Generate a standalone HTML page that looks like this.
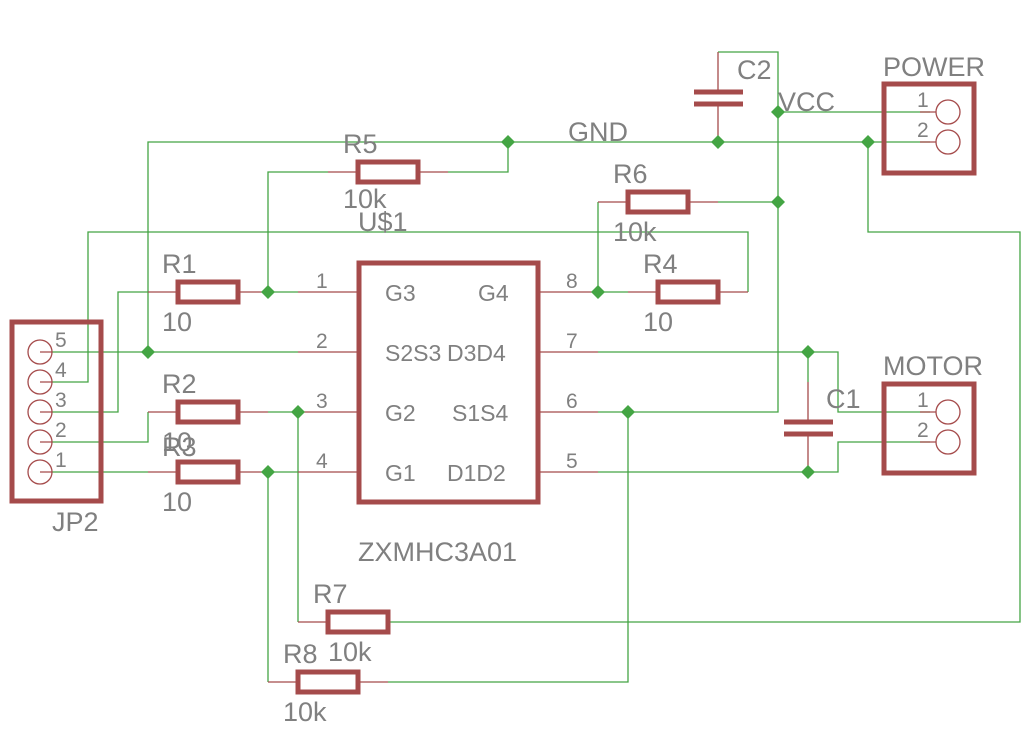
<!DOCTYPE html>
<html><head><style>body{margin:0;background:#fff}svg{display:block}text{font-family:"Liberation Sans",sans-serif;fill:#808080}</style></head><body>
<svg width="1024" height="732" viewBox="0 0 1024 732" xmlns="http://www.w3.org/2000/svg">
<g stroke="#44a544" stroke-width="1.3" fill="none">
<path d="M148 352V142H930"/>
<path d="M718 52H778V412H598"/>
<path d="M778 112H930"/>
<path d="M868 142V232H1020V622H388"/>
<path d="M718 202H778"/>
<path d="M598 202V292H628"/>
<path d="M448 172H508V142"/>
<path d="M328 172H268V292H298"/>
<path d="M52 382H88V232H748V292"/>
<path d="M52 352H298"/>
<path d="M52 412H118V292H148"/>
<path d="M52 442H148V412"/>
<path d="M52 472H148"/>
<path d="M268 412H298V622"/>
<path d="M268 472H298"/>
<path d="M268 472V682"/>
<path d="M388 682H628V412"/>
<path d="M598 352H838V412H930"/>
<path d="M598 472H838V442H930"/>
<path d="M808 352V382"/>
</g>
<g stroke="#a54b4b" stroke-width="1.3" fill="none">
<path d="M718 52V92M718 104V142"/>
<path d="M598 202H627M688 202H718"/>
<path d="M538 292H598M628 292H657M718 292H748"/>
<path d="M328 172H358M418 172H448"/>
<path d="M148 292H178M238 292H268M298 292H358"/>
<path d="M298 352H358"/>
<path d="M148 412H178M238 412H268M298 412H358"/>
<path d="M148 472H178M238 472H268M298 472H358"/>
<path d="M538 352H598M538 412H598M538 472H598"/>
<path d="M808 382V422M808 434V472"/>
<path d="M298 622H328"/>
<path d="M268 682H298M358 682H388"/>
<path d="M40 352H52M40 382H52M40 412H52M40 442H52M40 472H52"/>
<path d="M920 112H936M920 142H936M920 412H936M920 442H936"/>
<circle cx="40" cy="352" r="12"/><circle cx="40" cy="382" r="12"/><circle cx="40" cy="412" r="12"/><circle cx="40" cy="442" r="12"/><circle cx="40" cy="472" r="12"/>
<circle cx="948" cy="112" r="12"/><circle cx="948" cy="142" r="12"/><circle cx="948" cy="412" r="12"/><circle cx="948" cy="442" r="12"/>
</g>
<g stroke="#a54b4b" stroke-width="5" fill="none">
<rect x="358" y="162" width="60" height="20"/>
<rect x="628" y="192" width="60" height="20"/>
<rect x="658" y="282" width="60" height="20"/>
<rect x="178" y="282" width="60" height="20"/>
<rect x="178" y="402" width="60" height="20"/>
<rect x="178" y="462" width="60" height="20"/>
<rect x="328" y="612" width="60" height="20"/>
<rect x="298" y="672" width="60" height="20"/>
<rect x="12" y="322" width="89" height="179"/>
<rect x="884" y="84" width="90" height="89"/>
<rect x="884" y="384" width="90" height="89"/>
<rect x="359" y="263" width="179" height="239"/>
<path d="M694 92H743M694 104H743M784 422H833M784 434H833"/>
</g>
<g fill="#44a544">
<path d="M508 135l7 7-7 7-7-7z"/><path d="M718 135l7 7-7 7-7-7z"/><path d="M868 135l7 7-7 7-7-7z"/>
<path d="M778 105l7 7-7 7-7-7z"/><path d="M778 195l7 7-7 7-7-7z"/><path d="M598 285l7 7-7 7-7-7z"/>
<path d="M268 285l7 7-7 7-7-7z"/><path d="M148 345l7 7-7 7-7-7z"/><path d="M298 405l7 7-7 7-7-7z"/>
<path d="M268 465l7 7-7 7-7-7z"/><path d="M808 345l7 7-7 7-7-7z"/><path d="M628 405l7 7-7 7-7-7z"/><path d="M808 465l7 7-7 7-7-7z"/>
</g>
<g font-size="27">
<text x="343" y="153">R5</text><text x="343" y="208">10k</text><text x="358" y="231">U$1</text>
<text x="613" y="183">R6</text><text x="613" y="241">10k</text>
<text x="643" y="273">R4</text><text x="643" y="331">10</text>
<text x="162" y="273">R1</text><text x="162" y="331">10</text>
<text x="162" y="393">R2</text><text x="162" y="451">10</text>
<text x="162" y="456">R3</text><text x="162" y="511">10</text>
<text x="52" y="531">JP2</text><text x="358" y="561">ZXMHC3A01</text>
<text x="313" y="603">R7</text><text x="328" y="661">10k</text>
<text x="283" y="663">R8</text><text x="283" y="721">10k</text>
<text x="568" y="141">GND</text><text x="778" y="111">VCC</text>
<text x="737" y="79">C2</text><text x="826" y="408">C1</text>
<text x="883" y="76">POWER</text><text x="883" y="375">MOTOR</text>
</g>
<g font-size="23">
<text x="385" y="301">G3</text><text x="478" y="301">G4</text>
<text x="385" y="361">S2S3</text><text x="447" y="361">D3D4</text>
<text x="385" y="421">G2</text><text x="452" y="421">S1S4</text>
<text x="385" y="481">G1</text><text x="447" y="481">D1D2</text>
</g>
<g font-size="21">
<text x="316" y="288">1</text><text x="316" y="348">2</text><text x="316" y="408">3</text><text x="316" y="468">4</text>
<text x="566" y="288">8</text><text x="566" y="348">7</text><text x="566" y="408">6</text><text x="566" y="468">5</text>
<text x="55" y="347">5</text><text x="55" y="377">4</text><text x="55" y="407">3</text><text x="55" y="437">2</text><text x="55" y="467">1</text>
<text x="917" y="107">1</text><text x="917" y="137">2</text><text x="917" y="407">1</text><text x="917" y="437">2</text>
</g>
</svg>
</body></html>
